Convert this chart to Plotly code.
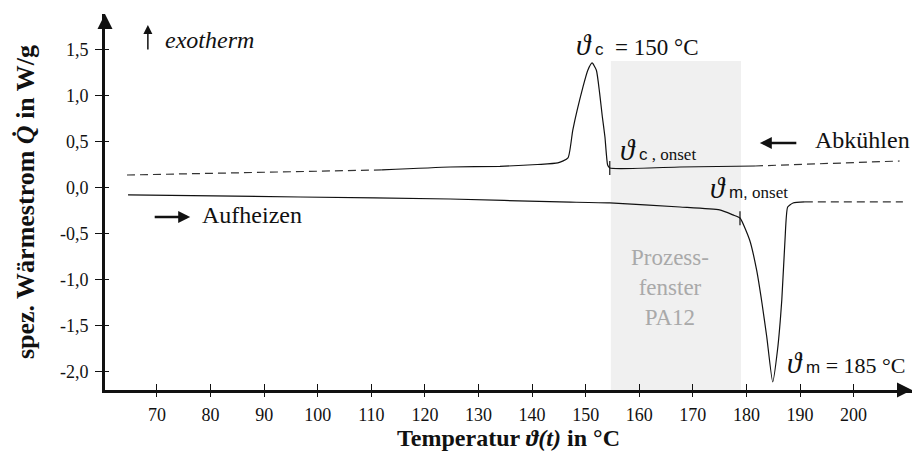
import plotly.graph_objects as go

# ---------------- data ----------------
# Cooling curve (Abkühlen)
cool_dash_left_T = [64.4, 112.0]
cool_dash_left_Q = [0.141, 0.196]
cool_T = [112.0, 124.7, 134.0, 141.0, 144.8, 146.7, 147.6, 149.5, 150.4, 151.2, 152.0,
          152.6, 153.1, 153.6, 154.1, 154.5, 167.6, 181.6]
cool_Q = [0.196, 0.228, 0.235, 0.255, 0.272, 0.326, 0.630, 1.098, 1.28, 1.359, 1.28,
          1.033, 0.78, 0.554, 0.25, 0.217, 0.228, 0.239]
cool_dash_right_T = [181.6, 208.6]
cool_dash_right_Q = [0.239, 0.293]

# Heating curve (Aufheizen)
heat_T = [64.6, 96.7, 124.7, 145.2, 154.5, 167.6, 175.0, 177.5, 178.8, 180.6, 181.9,
          182.9, 183.8, 184.9, 185.8, 186.6, 187.2, 187.7, 188.7, 190.9]
heat_Q = [-0.076, -0.098, -0.120, -0.152, -0.163, -0.207, -0.239, -0.293, -0.326, -0.565,
          -0.891, -1.25, -1.62, -2.109, -1.761, -1.217, -0.565, -0.207, -0.163, -0.152]
heat_dash_T = [190.9, 209.2]
heat_dash_Q = [-0.152, -0.152]

# Onset points
onset_T = [154.5, 178.8]
onset_Q = [0.217, -0.330]

# Process window PA12
window_T = [154.7, 179.0]
window_top_Q = 1.38

# Axes
x_range = [60.3, 210.9]
y_range = [-2.196, 1.891]
x_tickvals = [70, 80, 90, 100, 110, 120, 130, 140, 150, 160, 170, 180, 190, 200]
x_ticktext = [str(v) for v in x_tickvals]
y_tickvals = [-2.0, -1.5, -1.0, -0.5, 0.0, 0.5, 1.0, 1.5]
y_ticktext = ["-2,0", "-1,5", "-1,0", "-0,5", "0,0", "0,5", "1,0", "1,5"]

# ---------------- figure ----------------
SERIF = "Liberation Serif"
SANS = "Liberation Sans"
fig = go.Figure()

line_solid = dict(color="#111111", width=1.2)
line_dash = dict(color="#333333", width=1.2, dash="8px,5px")

fig.add_trace(go.Scatter(x=cool_dash_left_T, y=cool_dash_left_Q, mode="lines", line=line_dash, hoverinfo="skip"))
fig.add_trace(go.Scatter(x=cool_T, y=cool_Q, mode="lines", line=dict(**line_solid, shape="spline", smoothing=0.5), hoverinfo="skip"))
fig.add_trace(go.Scatter(x=cool_dash_right_T, y=cool_dash_right_Q, mode="lines", line=line_dash, hoverinfo="skip"))
fig.add_trace(go.Scatter(x=heat_T, y=heat_Q, mode="lines", line=dict(**line_solid, shape="spline", smoothing=0.5), hoverinfo="skip"))
fig.add_trace(go.Scatter(x=heat_dash_T, y=heat_dash_Q, mode="lines", line=line_dash, hoverinfo="skip"))
fig.add_trace(go.Scatter(x=onset_T, y=onset_Q, mode="markers",
                         marker=dict(symbol="line-ns", size=10, line=dict(color="#111111", width=1.2)),
                         hoverinfo="skip"))

# process window
fig.add_shape(type="rect", xref="x", yref="y", x0=window_T[0], x1=window_T[1],
              y0=y_range[0], y1=window_top_Q, fillcolor="#f0f0f0", line=dict(width=0), layer="below")

tickfont = dict(family=SERIF, size=18, color="#111111")
fig.update_layout(
    width=922, height=451,
    margin=dict(l=105, r=10, t=14, b=61),
    paper_bgcolor="white", plot_bgcolor="rgba(0,0,0,0)",
    showlegend=False,
    xaxis=dict(range=x_range, showgrid=False, zeroline=False, showline=True, linewidth=3,
               linecolor="#111111", ticks="outside", ticklen=4, tickwidth=1.2, tickcolor="#111111",
               tickvals=x_tickvals, ticktext=x_ticktext, tickfont=tickfont, ticklabelstandoff=2,
               automargin=False,
               title=dict(text="<b>Temperatur </b><b><i>ϑ(t)</i></b><b> in °C</b>",
                          font=dict(family=SERIF, size=24, color="#111111"), standoff=2)),
    yaxis=dict(range=y_range, showgrid=False, zeroline=False, showline=True, linewidth=3,
               linecolor="#111111", ticks="outside", ticklen=7, tickwidth=1.2, tickcolor="#111111",
               tickvals=y_tickvals, ticktext=y_ticktext, tickfont=tickfont, ticklabelstandoff=3,
               automargin=False,
               title=dict(text="<b>spez. Wärmestrom </b><b><i>Q̇</i></b><b> in W/g</b>",
                          font=dict(family=SERIF, size=26, color="#111111"), standoff=18)),
    xaxis2=dict(range=x_range, overlaying="x", anchor="y2", showgrid=False, zeroline=False,
                showline=False, ticks="inside", ticklen=6, tickwidth=1.2, tickcolor="#111111",
                tickvals=x_tickvals, showticklabels=False, automargin=False),
    yaxis2=dict(range=y_range, overlaying="y", anchor="x2", showgrid=False, zeroline=False,
                showline=False, ticks="inside", ticklen=4, tickwidth=1.2, tickcolor="#111111",
                tickvals=y_tickvals, showticklabels=False, automargin=False),
)
fig.add_trace(go.Scatter(x=[None], y=[None], xaxis="x2", yaxis="y2", hoverinfo="skip"))

# axis arrowheads
fig.add_annotation(x=x_range[1], y=y_range[0], ax=-14, ay=0, xref="x", yref="y", text="",
                   showarrow=True, arrowhead=2, arrowsize=1, arrowwidth=3, arrowcolor="#111111")
fig.add_annotation(x=x_range[0], y=y_range[1], ax=0, ay=14, xref="x", yref="y", text="",
                   showarrow=True, arrowhead=2, arrowsize=1, arrowwidth=3, arrowcolor="#111111")

# direction arrows
fig.add_annotation(x=68.3, y=1.772, ax=0, ay=26, text="", showarrow=True, arrowhead=2,
                   arrowsize=1.2, arrowwidth=1.5, arrowcolor="#111111")
fig.add_annotation(x=76.2, y=-0.315, ax=-37, ay=0, text="", showarrow=True, arrowhead=2,
                   arrowsize=1, arrowwidth=2.4, arrowcolor="#111111")
fig.add_annotation(x=182.5, y=0.489, ax=38, ay=0, text="", showarrow=True, arrowhead=2,
                   arrowsize=1, arrowwidth=2.4, arrowcolor="#111111")

def txt(x, y, text, size=24, color="#111111", xanchor="left", align="left"):
    fig.add_annotation(x=x, y=y, text=text, showarrow=False, xanchor=xanchor, yanchor="middle",
                       align=align, font=dict(family=SERIF, size=size, color=color))

THETA = "<span style='font-size:29px'><i>ϑ</i></span>"
SUB = "<span style='font-family:Liberation Sans;font-size:17px'>"

txt(71.1, 1.609, "<i>exotherm</i>", size=24)
txt(78.0, -0.293, "Aufheizen")
txt(192.4, 0.522, "Abkühlen")
txt(159.6, 1.554, THETA + SUB + " c</span>  = 150 °C", size=23, xanchor="center")
txt(156.0, 0.413, THETA + SUB + " c</span><span style='font-size:17px'> , onset</span>", size=24)
txt(172.8, 0.0, THETA + SUB + " m,</span><span style='font-size:17px'> onset</span>", size=24)
txt(187.2, -1.90, THETA + SUB + " m</span> = 185 °C", size=22)
txt(165.7, -1.087, "Prozess-<br>fenster<br>PA12", size=23, color="#a9a9a9",
    xanchor="center", align="center")

fig.write_html("out.html")
